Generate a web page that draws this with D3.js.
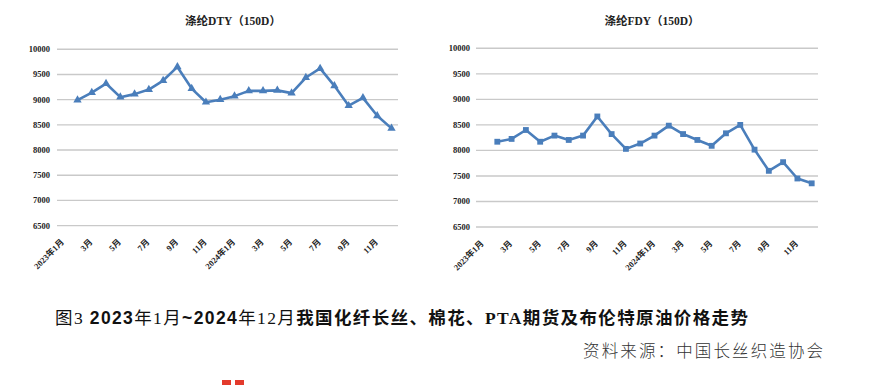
<!DOCTYPE html>
<html><head><meta charset="utf-8">
<script src="https://cdn.jsdelivr.net/npm/d3@7"></script>
<style>
html,body{margin:0;padding:0;background:#fff;}
svg{display:block;}
</style></head>
<body>
<svg id="c" width="895" height="385"></svg>
<script>
// ---- data ----
const months = ["2023年1月","2023年2月","2023年3月","2023年4月","2023年5月","2023年6月","2023年7月","2023年8月",
  "2023年9月","2023年10月","2023年11月","2023年12月",
  "2024年1月","2024年2月","2024年3月","2024年4月","2024年5月","2024年6月","2024年7月","2024年8月",
  "2024年9月","2024年10月","2024年11月"];
const tickLabels = ["2023年1月","3月","5月","7月","9月","11月","2024年1月","3月","5月","7月","9月","11月"];
const dtyValues = [8990, 9140, 9320, 9050, 9110, 9200, 9380, 9650, 9220, 8950, 9000, 9070,
  9175, 9175, 9185, 9130, 9440, 9620, 9275, 8880, 9035, 8680, 8430];
const fdyValues = [8170, 8225, 8400, 8170, 8290, 8205, 8290, 8665, 8320, 8030, 8135, 8290,
  8485, 8320, 8205, 8090, 8335, 8500, 8015, 7600, 7770, 7450, 7355];
const yTicks = [6500, 7000, 7500, 8000, 8500, 9000, 9500, 10000];
const titles = ["涤纶DTY（150D）", "涤纶FDY（150D）"];

const svg = d3.select("#c");
const blue = "#4a7ebb";
const latinCjk = "'Liberation Serif','Noto Sans CJK SC',serif";

function panel(cfg) {
  const g = svg.append("g");
  const x = d3.scalePoint().domain(months).range([cfg.x0, cfg.x1]);
  const y = d3.scaleLinear().domain([6500, 10000]).range([cfg.yb, cfg.yt]);

  // gridlines
  g.selectAll("line.grid").data(yTicks).join("line")
    .attr("x1", cfg.gx0).attr("x2", cfg.gx1)
    .attr("y1", d => y(d)).attr("y2", d => y(d))
    .attr("stroke", "#c9c9c9").attr("stroke-width", 1.4);

  // y labels
  g.selectAll("text.yl").data(yTicks).join("text")
    .attr("x", cfg.lx).attr("y", d => y(d)).attr("dy", "0.35em")
    .attr("text-anchor", "end")
    .attr("font-family", latinCjk).attr("font-weight", "bold")
    .attr("font-size", 8.5).attr("fill", "#222")
    .text(d => d);

  // x labels (every second month)
  const labelIdx = tickLabels.map((t, i) => i * 2);
  g.selectAll("text.xl").data(labelIdx).join("text")
    .attr("transform", i => `translate(${x(months[i]) - 13},${cfg.yb + 17}) rotate(-45)`)
    .attr("text-anchor", "end")
    .attr("font-family", latinCjk).attr("font-weight", "bold")
    .attr("font-size", 8.5).attr("fill", "#222")
    .text((i, k) => tickLabels[k]);

  // line
  const line = d3.line().x((d, i) => x(months[i])).y(d => y(d));
  g.append("path").datum(cfg.values)
    .attr("d", line).attr("fill", "none")
    .attr("stroke", blue).attr("stroke-width", 2.6)
    .attr("stroke-linejoin", "round");

  // markers
  const sym = d3.symbol().type(cfg.marker).size(cfg.msize);
  g.selectAll("path.m").data(cfg.values).join("path")
    .attr("transform", (d, i) => `translate(${x(months[i])},${y(d)})`)
    .attr("d", sym).attr("fill", blue);

  // title
  g.append("text").attr("x", cfg.tx).attr("y", 25)
    .attr("text-anchor", "middle")
    .attr("font-family", latinCjk).attr("font-weight", "bold")
    .attr("font-size", 11.5).attr("fill", "#222")
    .text(cfg.title);
}

panel({values: dtyValues, x0: 77.5, x1: 391.5, gx0: 57, gx1: 398, yb: 225.6, yt: 49.3,
  lx: 50, tx: 233, title: titles[0], marker: d3.symbolTriangle, msize: 30});
panel({values: fdyValues, x0: 497.3, x1: 811.7, gx0: 476, gx1: 818, yb: 227, yt: 48.3,
  lx: 470, tx: 652, title: titles[1], marker: d3.symbolSquare, msize: 34});

// caption
const cap = svg.append("text").attr("x", 55).attr("y", 324)
  .attr("font-family", "'Liberation Serif','Noto Sans CJK SC',serif")
  .attr("font-size", 17.5).attr("fill", "#111")
  .attr("textLength", 693).attr("lengthAdjust", "spacing");
const parts = [["图3  ", "normal", null], ["2023", "bold", "'Liberation Sans',sans-serif"], ["年1月", "normal", null],
  ["~2024", "bold", "'Liberation Sans',sans-serif"], ["年12月", "normal", null],
  ["我国化纤长丝、棉花、PTA期货及布伦特原油价格走势", "bold", null]];
parts.forEach(p => {
  const t = cap.append("tspan").attr("font-weight", p[1]).text(p[0]);
  if (p[2]) t.attr("font-family", p[2]);
});

// source
svg.append("text").attr("x", 583).attr("y", 357)
  .attr("font-family", "'Noto Sans CJK SC',sans-serif")
  .attr("font-size", 16.5).attr("font-weight", 300).attr("fill", "#333")
  .attr("textLength", 240).attr("lengthAdjust", "spacing")
  .text("资料来源：中国长丝织造协会");

// red decorative marks
svg.append("rect").attr("x", 222).attr("y", 380).attr("width", 9).attr("height", 5).attr("fill", "#e33a2c");
svg.append("rect").attr("x", 235).attr("y", 380).attr("width", 9).attr("height", 5).attr("fill", "#e33a2c");
</script>
</body></html>
